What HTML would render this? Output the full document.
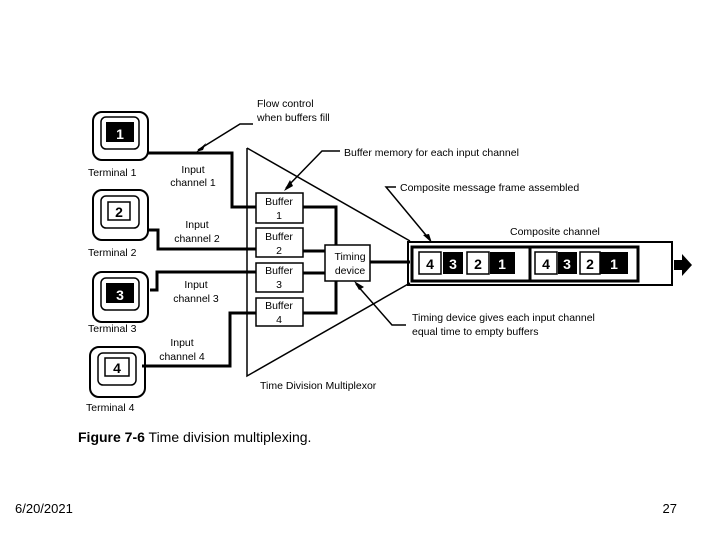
<!DOCTYPE html>
<html><head><style>
html,body{margin:0;padding:0;background:#fff;}
svg{display:block;font-family:"Liberation Sans",sans-serif;}
</style></head><body>
<svg width="720" height="540" viewBox="0 0 720 540" xmlns="http://www.w3.org/2000/svg">
<g fill="none" stroke="#000" stroke-width="1.5">
<rect x="93" y="112" width="55" height="48" rx="9" stroke-width="2"/>
<rect x="101" y="117" width="38" height="32" rx="5"/>
<rect x="93" y="190" width="55" height="50" rx="9" stroke-width="2"/>
<rect x="101" y="196" width="38" height="32" rx="5"/>
<rect x="93" y="272" width="55" height="50" rx="9" stroke-width="2"/>
<rect x="101" y="278" width="38" height="32" rx="5"/>
<rect x="90" y="347" width="55" height="50" rx="9" stroke-width="2"/>
<rect x="98" y="353" width="38" height="32" rx="5"/>
<path d="M247,148 L410,241 M247,148 L247,376 L410,283"/>
<rect x="256" y="193" width="47" height="30"/>
<rect x="256" y="228" width="47" height="29"/>
<rect x="256" y="263" width="47" height="29"/>
<rect x="256" y="298" width="47" height="28"/>
<rect x="325" y="245" width="45" height="36"/>
<g stroke-width="3">
<path d="M148,153 H232 V207 H256"/>
<path d="M148,230 H158 V249 H256"/>
<path d="M150,290 H157 V272 H256"/>
<path d="M142,366 H230 V313 H256"/>
<path d="M303,207 H336 V245"/>
<path d="M303,313 H336 V281"/>
<path d="M303,251 H325 M303,273 H325"/>
<path d="M370,262 H410"/>
</g>
<rect x="408" y="242" width="264" height="43" stroke-width="2"/>
<rect x="412" y="247" width="226" height="34" stroke-width="3"/>
<path d="M530,247 V281" stroke-width="3"/>
<path d="M253,124 H240 L198,150"/>
<path d="M340,151 H322 L286,188"/>
<path d="M396,187 H386 L430,240"/>
<path d="M406,325 H392 L356,284"/>
</g>
<g fill="#000">
<polygon points="196,152 206,143 203,150"/>
<polygon points="284,191 290,180 293,186"/>
<polygon points="432,243 423,235 429,234"/>
<polygon points="354,281 364,287 359,290"/>
<rect x="106" y="122" width="28" height="20"/>
<rect x="106" y="283" width="28" height="20"/>
<rect x="443" y="252" width="20" height="22"/>
<rect x="490" y="252" width="25" height="22"/>
<rect x="558" y="252" width="19" height="22"/>
<rect x="600" y="252" width="28" height="22"/>
<polygon points="674,260 682,260 682,254 692,265 682,276 682,270 674,270"/>
</g>
<g fill="none" stroke="#000" stroke-width="1.5">
<rect x="108" y="202" width="22" height="18"/>
<rect x="105" y="358" width="24" height="18"/>
<rect x="419" y="252" width="22" height="22"/>
<rect x="467" y="252" width="22" height="22"/>
<rect x="535" y="252" width="22" height="22"/>
<rect x="580" y="252" width="20" height="22"/>
</g>
<g font-size="14" font-weight="bold" text-anchor="middle">
<text x="120" y="139" fill="#fff">1</text>
<text x="119" y="217">2</text>
<text x="120" y="300" fill="#fff">3</text>
<text x="117" y="373">4</text>
<text x="430" y="269">4</text>
<text x="453" y="269" fill="#fff">3</text>
<text x="478" y="269">2</text>
<text x="502" y="269" fill="#fff">1</text>
<text x="546" y="269">4</text>
<text x="567" y="269" fill="#fff">3</text>
<text x="590" y="269">2</text>
<text x="614" y="269" fill="#fff">1</text>
</g>
<g font-size="10.5" fill="#000">
<text x="88" y="176">Terminal 1</text>
<text x="88" y="256">Terminal 2</text>
<text x="88" y="332">Terminal 3</text>
<text x="86" y="411">Terminal 4</text>
<g text-anchor="middle">
<text x="193" y="173">Input</text><text x="193" y="186">channel 1</text>
<text x="197" y="228">Input</text><text x="197" y="242">channel 2</text>
<text x="196" y="288">Input</text><text x="196" y="302">channel 3</text>
<text x="182" y="346">Input</text><text x="182" y="360">channel 4</text>
<text x="279" y="205">Buffer</text><text x="279" y="219">1</text>
<text x="279" y="240">Buffer</text><text x="279" y="254">2</text>
<text x="279" y="274">Buffer</text><text x="279" y="288">3</text>
<text x="279" y="309">Buffer</text><text x="279" y="323">4</text>
<text x="350" y="260">Timing</text><text x="350" y="274">device</text>
</g>
<text x="257" y="107">Flow control</text>
<text x="257" y="121">when buffers fill</text>
<text x="344" y="156">Buffer memory for each input channel</text>
<text x="400" y="191">Composite message frame assembled</text>
<text x="510" y="235">Composite channel</text>
<text x="412" y="321">Timing device gives each input channel</text>
<text x="412" y="335">equal time to empty buffers</text>
<text x="260" y="389">Time Division Multiplexor</text>
</g>
<text x="78" y="442" font-size="14" fill="#000"><tspan font-weight="bold">Figure 7-6</tspan> Time division multiplexing.</text>
<text x="15" y="513" font-size="13" fill="#000">6/20/2021</text>
<text x="677" y="513" font-size="13" fill="#000" text-anchor="end">27</text>
</svg>
</body></html>
